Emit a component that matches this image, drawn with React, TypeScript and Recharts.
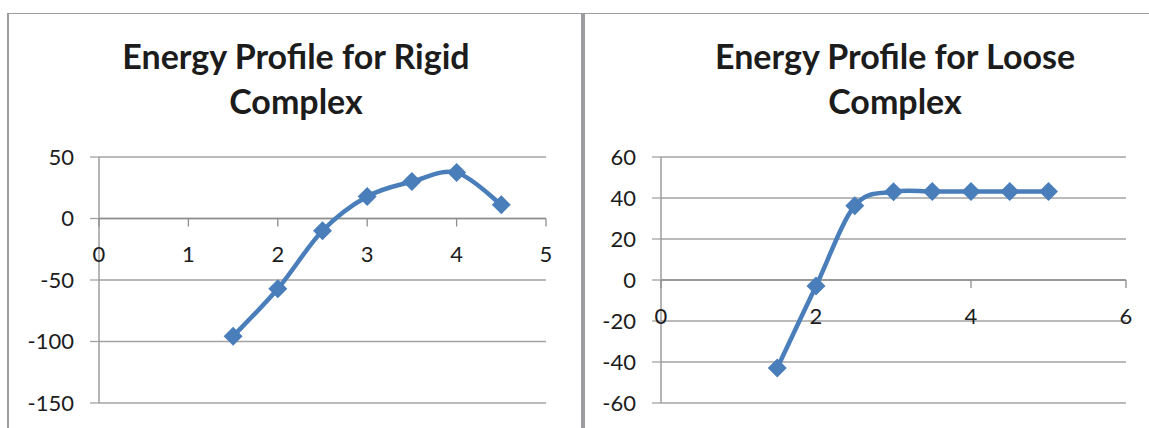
import React from 'react';
import { LineChart, Line, XAxis, YAxis, CartesianGrid, ReferenceLine, ReferenceDot } from 'recharts';

// Rigid complex: distance vs. energy
const rigidDistance = [1.5, 2, 2.5, 3, 3.5, 4, 4.5];
const rigidEnergy = [-95.7, -57.1, -10, 17.9, 30, 37.3, 11.2];
const rigidXTicks = [0, 1, 2, 3, 4, 5];
const rigidYTicks = [-150, -100, -50, 0, 50];

// Loose complex: distance vs. energy
const looseDistance = [1.5, 2, 2.5, 3, 3.5, 4, 4.5, 5];
const looseEnergy = [-42.9, -2.9, 36.2, 43, 43.2, 43.2, 43.2, 43.2];
const looseXTicks = [0, 2, 4, 6];
const looseYTicks = [-60, -40, -20, 0, 20, 40, 60];

const rigidData = rigidDistance.map((x, i) => ({ x, y: rigidEnergy[i] }));
const looseData = looseDistance.map((x, i) => ({ x, y: looseEnergy[i] }));

const LINE_BLUE = '#4A7EBB';
const GRID = '#a3a3a3';
const AXIS = '#8e8e8e';
const BORDER = '#9c9ca0';
const TEXT = '#1c1c1c';
const FONT = 'Lato, "Open Sans", sans-serif';

// Spreadsheet-style smoothed line: cubic Bezier through each point,
// control points taken from the neighbouring points (1/6 rule).
const smoothCurve = (context: any) => {
  let pts: number[][] = [];
  return {
    areaStart() {},
    areaEnd() {},
    lineStart() {
      pts = [];
    },
    point(x: number, y: number) {
      pts.push([+x, +y]);
    },
    lineEnd() {
      if (!pts.length) return;
      context.moveTo(pts[0][0], pts[0][1]);
      for (let i = 0; i < pts.length - 1; i++) {
        const p0 = pts[i - 1] || pts[i];
        const p1 = pts[i];
        const p2 = pts[i + 1];
        const p3 = pts[i + 2] || p2;
        context.bezierCurveTo(
          p1[0] + (p2[0] - p0[0]) / 6,
          p1[1] + (p2[1] - p0[1]) / 6,
          p2[0] - (p3[0] - p1[0]) / 6,
          p2[1] - (p3[1] - p1[1]) / 6,
          p2[0],
          p2[1]
        );
      }
    },
  };
};

const Diamond = (props: any) => {
  const { cx, cy } = props;
  if (cx == null || cy == null) return null;
  const h = 9.5;
  return (
    <polygon
      key={`d-${cx}-${cy}`}
      points={`${cx},${cy - h} ${cx + h},${cy} ${cx},${cy + h} ${cx - h},${cy}`}
      fill={LINE_BLUE}
    />
  );
};

// Category-axis tick drawn where the value axis crosses zero
const makeXTick = (label: number) => (props: any) => {
  const { cx, cy } = props;
  return (
    <g>
      <line x1={cx} y1={cy} x2={cx} y2={cy + 8} stroke={AXIS} strokeWidth={1.3} />
      <text
        x={cx}
        y={cy + 36}
        dy="0.355em"
        textAnchor="middle"
        fontFamily={FONT}
        fontSize={22}
        fill={TEXT}
      >
        {label}
      </text>
    </g>
  );
};

type PanelProps = {
  data: { x: number; y: number }[];
  xTicks: number[];
  yTicks: number[];
  width: number;
  yAxisWidth: number;
  rightMargin: number;
};

const Panel = ({ data, xTicks, yTicks, width, yAxisWidth, rightMargin }: PanelProps) => (
  <LineChart
    width={width}
    height={428}
    data={data}
    margin={{ top: 157, right: rightMargin, bottom: 25, left: 0 }}
  >
    <CartesianGrid vertical={false} stroke={GRID} strokeWidth={1.3} />
    <XAxis
      dataKey="x"
      type="number"
      domain={[xTicks[0], xTicks[xTicks.length - 1]]}
      ticks={xTicks}
      hide
    />
    <YAxis
      type="number"
      domain={[yTicks[0], yTicks[yTicks.length - 1]]}
      ticks={yTicks}
      width={yAxisWidth}
      interval={0}
      tickSize={9}
      tickMargin={16}
      axisLine={{ stroke: AXIS, strokeWidth: 1.3 }}
      tickLine={{ stroke: GRID, strokeWidth: 1.3 }}
      tick={{ fontFamily: FONT, fontSize: 22, fill: TEXT }}
    />
    <ReferenceLine y={0} stroke={AXIS} strokeWidth={1.3} />
    {xTicks.map((t) => (
      <ReferenceDot key={t} x={t} y={0} r={0} shape={makeXTick(t)} />
    ))}
    <Line
      dataKey="y"
      type={smoothCurve as any}
      stroke={LINE_BLUE}
      strokeWidth={4.5}
      dot={Diamond}
      activeDot={false}
      isAnimationActive={false}
    />
  </LineChart>
);

const titleStyle: React.CSSProperties = {
  position: 'absolute',
  top: 33,
  width: 520,
  textAlign: 'center',
  fontFamily: FONT,
  fontWeight: 700,
  fontSize: 34,
  lineHeight: '45px',
  color: TEXT,
  whiteSpace: 'nowrap',
};

export default function App() {
  return (
    <div
      style={{
        position: 'absolute',
        left: 0,
        top: 0,
        width: 1149,
        height: 428,
        overflow: 'hidden',
        background: '#ffffff',
      }}
    >
      {/* chart frames */}
      <div style={{ position: 'absolute', left: 7, top: 13, width: 1142, height: 1, background: BORDER }} />
      <div style={{ position: 'absolute', left: 7, top: 13, width: 2, height: 415, background: BORDER }} />
      <div style={{ position: 'absolute', left: 581, top: 13, width: 4, height: 415, background: BORDER }} />

      <div style={{ position: 'absolute', left: 0, top: 0 }}>
        <Panel
          data={rigidData}
          xTicks={rigidXTicks}
          yTicks={rigidYTicks}
          width={581}
          yAxisWidth={99}
          rightMargin={35}
        />
      </div>
      <div style={{ position: 'absolute', left: 585, top: 0 }}>
        <Panel
          data={looseData}
          xTicks={looseXTicks}
          yTicks={looseYTicks}
          width={564}
          yAxisWidth={76}
          rightMargin={23}
        />
      </div>

      <div style={{ ...titleStyle, left: 296 - 260 }}>
        Energy Profile for Rigid
        <br />
        Complex
      </div>
      <div style={{ ...titleStyle, left: 895 - 260 }}>
        Energy Profile for Loose
        <br />
        Complex
      </div>
    </div>
  );
}
